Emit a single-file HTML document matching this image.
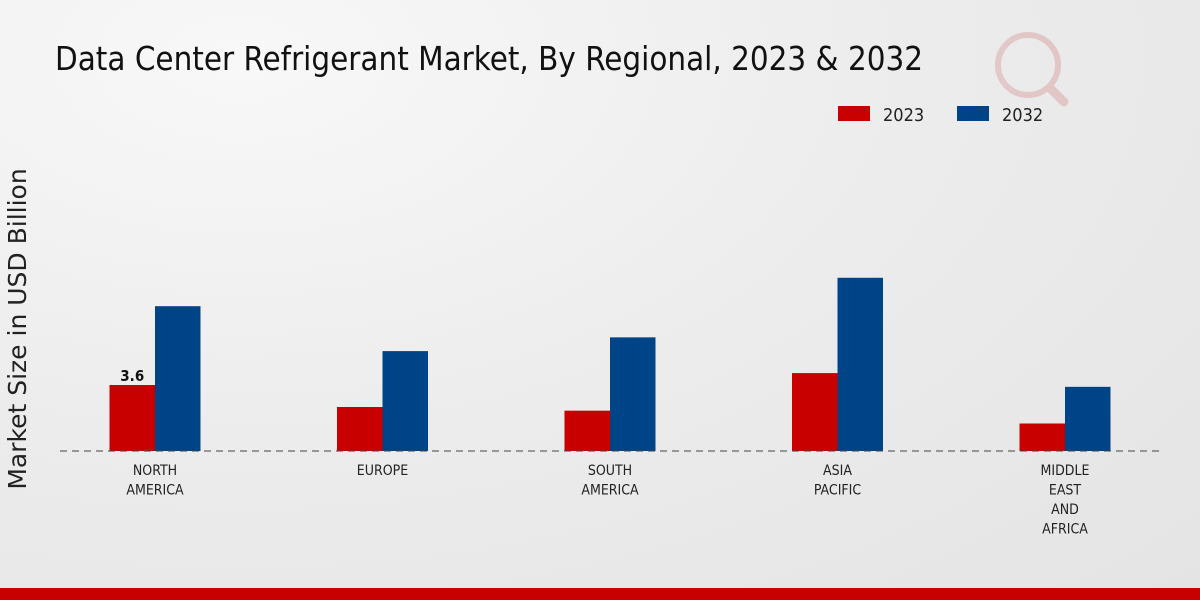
<!DOCTYPE html>
<html><head><meta charset="utf-8"><style>
html,body{margin:0;padding:0;width:1200px;height:600px;overflow:hidden}
body{background:radial-gradient(ellipse at 20% 10%,#f8f8f8 0%,#ececec 50%,#e4e4e4 100%);font-family:"DejaVu Sans Condensed","DejaVu Sans","Liberation Sans",sans-serif}
</style></head><body>
<svg width="1200" height="600">
<text x="55" y="70" font-size="32.8" fill="#111" font-family="DejaVu Sans Condensed, DejaVu Sans, sans-serif">Data Center Refrigerant Market, By Regional, 2023 &amp; 2032</text>
<g opacity="0.25">
<circle cx="1028" cy="65" r="30" fill="none" stroke="#c86060" stroke-width="6"/>
<line x1="1050" y1="88" x2="1064" y2="102" stroke="#c86060" stroke-width="9" stroke-linecap="round"/>
</g>
<g>
<rect x="838" y="106" width="32" height="15" fill="#c80000"/>
<text x="883" y="121" font-size="18" fill="#222">2023</text>
<rect x="957" y="106" width="32" height="15" fill="#004488"/>
<text x="1002" y="121" font-size="18" fill="#222">2032</text>
</g>
<text transform="translate(26,329) rotate(-90)" text-anchor="middle" font-size="25" fill="#222" font-family="DejaVu Sans, sans-serif">Market Size in USD Billion</text>
<g id="bars"></g>
<line x1="60" y1="451" x2="1160" y2="451" stroke="#444" stroke-dasharray="7,5"/>
<g id="labels"></g>
<rect x="0" y="588" width="1200" height="12" fill="#c80000"/>
</svg>
<script>
const categories=[["NORTH","AMERICA"],["EUROPE"],["SOUTH","AMERICA"],["ASIA","PACIFIC"],["MIDDLE","EAST","AND","AFRICA"]];
const v2023=[3.6,2.4,2.2,4.25,1.5];
const v2032=[7.9,5.45,6.2,9.45,3.5];
const ns="http://www.w3.org/2000/svg";
const base=451,scale=18.33,x0=155,step=227.5,bw=45.5;
const y=v=>base-v*scale;
const bars=document.getElementById('bars'),labs=document.getElementById('labels');
function mk(t,a){const e=document.createElementNS(ns,t);for(const k in a)e.setAttribute(k,a[k]);return e;}
categories.forEach((c,i)=>{
 const cx=x0+i*step;
 const r1=mk('rect',{x:cx-bw,y:y(v2023[i]),width:bw,height:v2023[i]*scale,fill:'#c80000'});
 
 
 bars.appendChild(r1);
 const r2=mk('rect',{x:cx,y:y(v2032[i]),width:bw,height:v2032[i]*scale,fill:'#004488'});
 
 
 bars.appendChild(r2);
 c.forEach((ln,j)=>{
  const t=mk('text',{x:cx,y:475+j*19.5,'text-anchor':'middle','font-size':14,fill:'#222'});
  t.textContent=ln;
  
  
  labs.appendChild(t);
 });
});
const vl=mk('text',{x:x0-bw/2,y:y(v2023[0])-4,'text-anchor':'middle','font-size':15,'font-weight':'bold',fill:'#111'});
vl.textContent=v2023[0];


labs.appendChild(vl);
</script>
</body></html>
